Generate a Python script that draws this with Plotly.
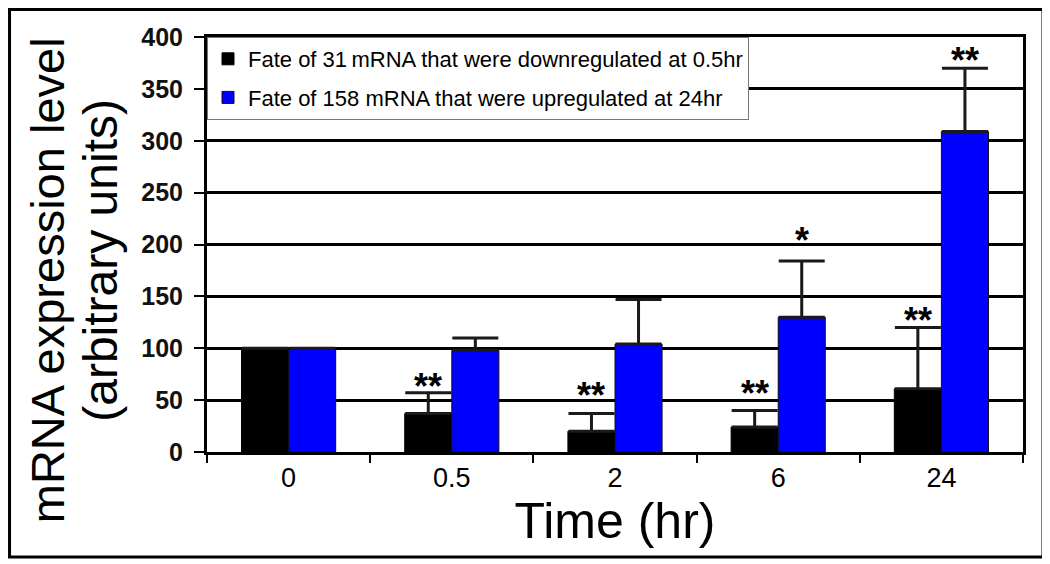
import plotly.graph_objects as go

categories = ["0", "0.5", "2", "6", "24"]
down_vals = [100, 37, 20, 24, 61]
down_err = [0, 20, 17, 16, 59]
up_vals = [100, 98, 104, 130, 309]
up_err = [0, 12, 43, 54, 61]
down_name = "Fate of 31\u2009mRNA that were downregulated at 0.5hr"
up_name = "Fate of 158 mRNA that were upregulated at 24hr"

# significance marks: (category index, series offset sign, y value, text)
stars_idx = [1, 2, 3, 4, 3, 4]
stars_side = [-1, -1, -1, -1, 1, 1]
stars_y = [71, 62, 64, 134, 212, 385]
stars_txt = ["**", "**", "**", "**", "*", "**"]

FONT = "Arial, Liberation Sans, sans-serif"
bargap = 0.423
half = (1 - bargap) / 4

fig = go.Figure()
fig.add_trace(go.Bar(
    x=categories, y=down_vals, name=down_name, legendgroup="a",
    marker=dict(color="black", line=dict(color="black", width=1)),
    error_y=dict(type="data", symmetric=False, array=down_err,
                 arrayminus=[0] * 5, color="#1a1a1a", thickness=3, width=23),
))
fig.add_trace(go.Bar(
    x=categories, y=up_vals, name=up_name, legendgroup="b",
    marker=dict(color="#0000ff", line=dict(color="#111111", width=1)),
    error_y=dict(type="data", symmetric=False, array=up_err,
                 arrayminus=[0] * 5, color="#1a1a1a", thickness=3, width=23),
))

for i, s, yv, t in zip(stars_idx, stars_side, stars_y, stars_txt):
    fig.add_annotation(x=i + s * half, y=yv, xref="x", yref="y", text=t,
                       showarrow=False, xanchor="center", yanchor="middle",
                       yshift=-8, font=dict(family=FONT, size=36, color="black",
                                            weight="bold"))

fig.add_annotation(x=-0.196, y=0.414, xref="paper", yref="paper",
                   text="mRNA expression level",
                   textangle=-90, showarrow=False, xanchor="center", yanchor="middle",
                   font=dict(family=FONT, size=47, color="black"))
fig.add_annotation(x=-0.130, y=0.463, xref="paper", yref="paper",
                   text="(arbitrary units)",
                   textangle=-90, showarrow=False, xanchor="center", yanchor="middle",
                   font=dict(family=FONT, size=48, color="black"))

fig.add_shape(type="rect", xref="paper", yref="paper",
              x0=-0.242, x1=1.0245, y0=-0.253, y1=1.0663,
              line=dict(color="black", width=3), fillcolor="rgba(0,0,0,0)")

fig.update_layout(
    width=1050, height=564,
    margin=dict(l=199, r=35, t=29, b=120),
    paper_bgcolor="white", plot_bgcolor="white",
    barmode="group", bargap=bargap, bargroupgap=0,
    showlegend=True,
    legend=dict(x=0, y=1, xanchor="left", yanchor="top",
                bgcolor="white", bordercolor="#777777", borderwidth=1,
                font=dict(family=FONT, size=22, color="black"),
                tracegroupgap=7, traceorder="grouped"),
    font=dict(family=FONT, color="black"),
    xaxis=dict(type="category", showline=True, linecolor="black", linewidth=3,
               mirror=True, ticks="outside", tickson="boundaries", ticklen=8,
               tickwidth=2, tickcolor="black", showgrid=False,
               tickfont=dict(family=FONT, size=27, color="black"),
               title=dict(text="Time (hr)", standoff=2,
                          font=dict(family=FONT, size=50, color="black"))),
    yaxis=dict(range=[0, 400], tickvals=[0, 50, 100, 150, 200, 250, 300, 350, 400],
               showline=True, linecolor="black", linewidth=3, mirror=True,
               ticks="outside", ticklen=10, tickwidth=2, tickcolor="black",
               showgrid=True, gridcolor="black", gridwidth=2.5,
               zeroline=False, ticklabelstandoff=6,
               tickfont=dict(family=FONT, size=25, color="#111111", weight="bold")),
)

fig.write_html("out.html")
